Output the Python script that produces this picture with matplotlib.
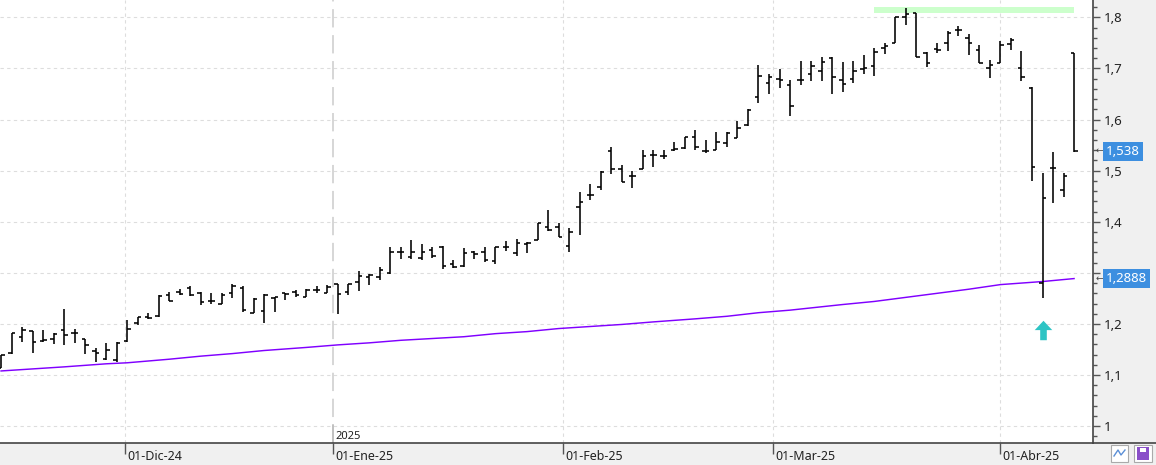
import numpy as np
import matplotlib.pyplot as plt
from matplotlib.path import Path
from matplotlib.patches import Rectangle
from matplotlib.lines import Line2D
from matplotlib.ticker import MultipleLocator, FuncFormatter

plt.rcParams['font.family'] = ['Noto Sans', 'DejaVu Sans']

# daily OHLC, mid-Nov 2024 .. 10-Apr 2025
opens = [1.113, 1.144, 1.174, 1.186, 1.167, 1.170, 1.188, 1.182, 1.170, 1.147,
         1.131, 1.129, 1.167, 1.202, 1.213, 1.216, 1.257, 1.263, 1.270, 1.261,
         1.244, 1.240, 1.260, 1.270, 1.222, 1.226, 1.250, 1.261, 1.263, 1.252,
         1.266, 1.261, 1.279, 1.263, 1.282, 1.292, 1.291, 1.299, 1.341, 1.331,
         1.330, 1.344, 1.351, 1.318, 1.313, 1.341, 1.341, 1.323, 1.351, 1.338,
         1.356, 1.364, 1.389, 1.389, 1.353, 1.429, 1.452, 1.468, 1.539, 1.504,
         1.489, 1.504, 1.530, 1.528, 1.540, 1.545, 1.565, 1.539, 1.540, 1.555,
         1.563, 1.590, 1.645, 1.672, 1.679, 1.668, 1.677, 1.690, 1.695, 1.721,
         1.677, 1.679, 1.699, 1.705, 1.741, 1.749, 1.800, 1.808, 1.731, 1.739,
         1.749, 1.775, 1.759, 1.736, 1.700, 1.711, 1.748, 1.700, 1.661, 1.280,
         1.505, 1.463, 1.731]
highs = [1.139, 1.182, 1.195, 1.186, 1.188, 1.182, 1.229, 1.191, 1.170, 1.152,
         1.162, 1.165, 1.208, 1.214, 1.221, 1.257, 1.263, 1.268, 1.274, 1.263,
         1.260, 1.261, 1.278, 1.274, 1.250, 1.259, 1.253, 1.261, 1.266, 1.268,
         1.274, 1.276, 1.279, 1.279, 1.304, 1.297, 1.311, 1.351, 1.351, 1.365,
         1.357, 1.350, 1.352, 1.326, 1.348, 1.343, 1.351, 1.350, 1.363, 1.367,
         1.361, 1.398, 1.423, 1.398, 1.387, 1.459, 1.474, 1.499, 1.547, 1.511,
         1.499, 1.541, 1.541, 1.540, 1.556, 1.565, 1.579, 1.560, 1.575, 1.576,
         1.598, 1.620, 1.707, 1.689, 1.698, 1.677, 1.715, 1.715, 1.723, 1.722,
         1.713, 1.715, 1.726, 1.741, 1.750, 1.801, 1.818, 1.808, 1.733, 1.749,
         1.774, 1.783, 1.767, 1.746, 1.717, 1.754, 1.759, 1.735, 1.663, 1.495,
         1.536, 1.496, 1.731]
lows = [1.113, 1.142, 1.165, 1.144, 1.164, 1.161, 1.159, 1.162, 1.142, 1.126,
        1.129, 1.126, 1.165, 1.198, 1.210, 1.214, 1.244, 1.257, 1.255, 1.237,
        1.240, 1.239, 1.250, 1.224, 1.221, 1.201, 1.224, 1.247, 1.253, 1.252,
        1.260, 1.260, 1.219, 1.256, 1.265, 1.277, 1.286, 1.297, 1.328, 1.328,
        1.326, 1.330, 1.307, 1.309, 1.312, 1.328, 1.322, 1.318, 1.343, 1.333,
        1.338, 1.364, 1.382, 1.371, 1.341, 1.374, 1.442, 1.462, 1.493, 1.478,
        1.466, 1.504, 1.508, 1.522, 1.539, 1.543, 1.541, 1.534, 1.540, 1.547,
        1.563, 1.587, 1.633, 1.650, 1.661, 1.607, 1.668, 1.676, 1.676, 1.650,
        1.653, 1.672, 1.689, 1.685, 1.728, 1.749, 1.785, 1.722, 1.702, 1.730,
        1.735, 1.764, 1.726, 1.710, 1.681, 1.711, 1.737, 1.676, 1.480, 1.250,
        1.436, 1.448, 1.537]
closes = [1.139, 1.182, 1.188, 1.164, 1.169, 1.180, 1.178, 1.182, 1.159, 1.144,
          1.149, 1.163, 1.191, 1.213, 1.211, 1.255, 1.245, 1.259, 1.257, 1.242,
          1.244, 1.257, 1.274, 1.227, 1.248, 1.257, 1.252, 1.259, 1.257, 1.266,
          1.266, 1.273, 1.258, 1.278, 1.294, 1.296, 1.305, 1.341, 1.341, 1.341,
          1.341, 1.333, 1.314, 1.311, 1.338, 1.337, 1.326, 1.350, 1.351, 1.359,
          1.358, 1.398, 1.384, 1.371, 1.380, 1.439, 1.452, 1.498, 1.504, 1.478,
          1.489, 1.528, 1.530, 1.528, 1.543, 1.565, 1.547, 1.539, 1.556, 1.574,
          1.583, 1.618, 1.685, 1.683, 1.677, 1.627, 1.677, 1.704, 1.712, 1.684,
          1.669, 1.696, 1.700, 1.732, 1.743, 1.800, 1.807, 1.722, 1.710, 1.736,
          1.770, 1.775, 1.749, 1.710, 1.707, 1.746, 1.756, 1.684, 1.507, 1.446,
          1.505, 1.490, 1.538]

# long moving average, read every few bars
ma_idx = [0, 3, 6, 10, 12, 16, 19, 22, 25, 29, 32, 35, 38, 44, 47, 50, 53, 56,
          59, 62, 66, 69, 72, 75, 80, 83, 86, 89, 92, 95, 99, 102]
ma_vals = [1.108, 1.112, 1.116, 1.122, 1.124, 1.131, 1.137, 1.142, 1.148, 1.154,
           1.159, 1.163, 1.168, 1.175, 1.181, 1.185, 1.191, 1.195, 1.199, 1.204,
           1.210, 1.215, 1.222, 1.227, 1.238, 1.244, 1.252, 1.260, 1.268, 1.277,
           1.283, 1.2888]

month_labels = ['01-Dic-24', '01-Ene-25', '01-Feb-25', '01-Mar-25', '01-Abr-25']
month_pos = [11.8, 31.6, 53.4, 73.4, 95.0]
last_price = 1.538
ma_last = 1.2888
peak_level = 1.8137
peak_from, peak_to = 83.0, 102.0
signal_bar = 99

fig = plt.figure(figsize=(11.56, 4.65), dpi=100)
fig.patch.set_facecolor('#f0f0f0')
ax = fig.add_axes([0, 22 / 465, 1093 / 1156, 443 / 465])
ax.set_facecolor('white')

x = np.arange(len(closes))

# grid
for yv in np.arange(1.0, 1.81, 0.1):
    ax.axhline(yv, color='#dddddd', lw=0.8, ls=(0, (3, 3)), zorder=0)
for i, p in enumerate(month_pos):
    if i == 1:
        ax.axvline(p, color='#cccccc', lw=1.1, ls=(0, (12, 5)), zorder=0)
        ax.axvline(p, ymin=0, ymax=18 / 443, color='#bbbbbb', lw=1.1, zorder=0)
    else:
        ax.axvline(p, color='#dddddd', lw=0.8, ls=(0, (3, 3)), zorder=0)

# peak band
ax.hlines(peak_level, peak_from, peak_to, color='#ccffcc', lw=4.3, zorder=1)

# moving average
ax.plot(ma_idx, ma_vals, color='#8000ff', lw=1.05, zorder=2)

# OHLC bars
ax.vlines(x, lows, highs, color='black', lw=1.15, zorder=3)
ax.hlines(opens, x - 0.33, x, color='black', lw=1.15, zorder=3)
ax.hlines(closes, x, x + 0.33, color='black', lw=1.15, zorder=3)

# signal arrow under the low
arrow = Path([(0, 0.5), (0.45, 0.02), (0.17, 0.02), (0.17, -0.5),
              (-0.17, -0.5), (-0.17, 0.02), (-0.45, 0.02), (0, 0.5)])
ax.plot(signal_bar, lows[signal_bar] - 0.061, marker=arrow, ms=14,
        color='#2ec4c4', mec='none', zorder=4)

ax.set_xlim(-0.1, 103.8)
ax.set_ylim(0.967, 1.834)

ax.spines['left'].set_visible(False)
ax.spines['top'].set_visible(False)
for s in ('bottom', 'right'):
    ax.spines[s].set_color('#444444')
    ax.spines[s].set_linewidth(1.2)

ax.yaxis.tick_right()
ax.yaxis.set_major_locator(MultipleLocator(0.1))
ax.yaxis.set_minor_locator(MultipleLocator(0.02))
ax.yaxis.set_major_formatter(FuncFormatter(lambda v, p: f'{round(v, 1):g}'.replace('.', ',')))
ax.tick_params(axis='y', which='major', length=5, width=1, color='#555555',
               pad=3, labelsize=9.5, labelcolor='#222222')
ax.tick_params(axis='y', which='minor', length=3, width=1, color='#555555')

ax.set_xticks(month_pos)
ax.set_xticklabels([])
ax.tick_params(axis='x', length=8, width=1, color='#555555')
for p, lab in zip(month_pos, month_labels):
    ax.annotate(lab, xy=(p, 0), xycoords=('data', 'axes fraction'),
                xytext=(1.5, -9.5), textcoords='offset points',
                ha='left', va='center', fontsize=9, color='#222222',
                annotation_clip=False)
ax.annotate('2025', xy=(month_pos[1], 0), xycoords=('data', 'axes fraction'),
            xytext=(1.5, 5), textcoords='offset points',
            ha='left', va='center', fontsize=8, color='#222222')

# value boxes on the price axis
for val, txt in [(last_price, '1,538'), (ma_last, '1,2888')]:
    ax.annotate(txt, xy=(1, val), xycoords=('axes fraction', 'data'),
                xytext=(9.3, 0), textcoords='offset points',
                ha='left', va='center', fontsize=9.5, color='white',
                bbox=dict(boxstyle='square,pad=0.22', fc='#3d8fe0', ec='none'),
                annotation_clip=False, zorder=10)
    ax.annotate('\u2190', xy=(1, val), xytext=(2.2, 0.5), xycoords=('axes fraction', 'data'),
                textcoords='offset points', ha='left', va='center',
                fontsize=6.5, color='#444444', annotation_clip=False)

# bottom strip line and little buttons
fig.add_artist(Line2D([1093 / 1156, 1], [22 / 465, 22 / 465], color='#444444', lw=1.2))
fig.add_artist(Rectangle((1111 / 1156, 3 / 465), 17 / 1156, 17 / 465, fc='white',
                         ec='#aaaaaa', lw=0.8))
fig.add_artist(Line2D(np.array([1114, 1118, 1121, 1125]) / 1156,
                      np.array([9, 15, 10, 15]) / 465, color='#5b8fd6', lw=1))
fig.add_artist(Rectangle((1134 / 1156, 3 / 465), 18 / 1156, 17 / 465, fc='white',
                         ec='#aaaaaa', lw=0.8))
fig.add_artist(Rectangle((1137 / 1156, 5 / 465), 12 / 1156, 13 / 465, fc='#8a4fc9',
                         ec='none'))
fig.add_artist(Rectangle((1140 / 1156, 13 / 465), 6 / 1156, 4 / 465, fc='white',
                         ec='none'))

fig.savefig('out.png', dpi=100, facecolor=fig.get_facecolor())
